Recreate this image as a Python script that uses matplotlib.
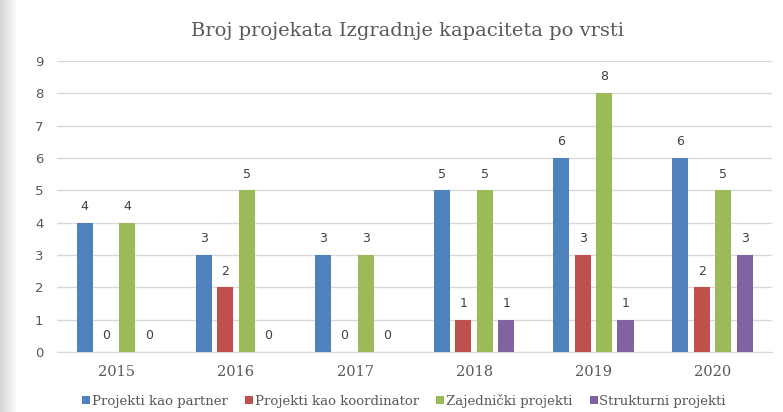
import matplotlib
matplotlib.use('Agg')
from matplotlib import pyplot as plt
import numpy as np

godine = ['2015', '2016', '2017', '2018', '2019', '2020']
partner = [4, 3, 3, 5, 6, 6]
koordinator = [0, 2, 0, 1, 3, 2]
zajednicki = [4, 5, 3, 5, 8, 5]
strukturni = [0, 0, 0, 1, 1, 3]

serije = [
    ('Projekti kao partner', partner, '#4F81BD'),
    ('Projekti kao koordinator', koordinator, '#C0504D'),
    ('Zajednički projekti', zajednicki, '#9BBB59'),
    ('Strukturni projekti', strukturni, '#8064A2'),
]
siva = '#595959'

fig = plt.figure(figsize=(7.83, 4.12), dpi=100)

# siva sjena na lijevom rubu
sjena = fig.add_axes([0, 0, 0.022, 1])
grad = np.linspace(0.83, 1.0, 50).reshape(1, -1)
sjena.imshow(grad, aspect='auto', cmap='gray', vmin=0, vmax=1, extent=[0, 1, 0, 1])
sjena.axis('off')

ax = fig.add_axes([0.073, 0.1456, 0.913, 0.7068])
x = np.arange(len(godine))
w = 0.135
pitch = 0.18
for i, (ime, vals, boja) in enumerate(serije):
    pos = x + (i - 1.5) * pitch
    bars = ax.bar(pos, vals, width=w, color=boja, label=ime, zorder=3)
    for xp, v in zip(pos, vals):
        ax.text(xp, v + 0.3, str(v), ha='center', va='bottom',
                fontsize=9, color='#404040', family='DejaVu Sans')

ax.set_xlim(-0.5, len(godine) - 0.5)
ax.set_ylim(0, 9)
ax.set_yticks(range(10))
ax.set_xticks(x)
ax.set_xticklabels(godine, family='DejaVu Serif', fontsize=10.5, color=siva)
ax.tick_params(axis='y', labelsize=9.5, labelcolor=siva, length=0, pad=10)
ax.tick_params(axis='x', length=0, pad=9)
ax.grid(axis='y', color='#d9d9d9', linewidth=1, zorder=0)
for s in ['top', 'right', 'left']:
    ax.spines[s].set_visible(False)
ax.spines['bottom'].set_color('#d9d9d9')

fig.text(0.521, 0.925, 'Broj projekata Izgradnje kapaciteta po vrsti',
         ha='center', va='center', fontsize=14, color=siva, family='DejaVu Serif')

leg = fig.legend(loc='center', bbox_to_anchor=(0.516, 0.027), ncol=4, frameon=False,
                 handlelength=0.6, handleheight=0.6, handletextpad=0.15, columnspacing=1.3,
                 borderpad=0.2, prop={'family': 'DejaVu Serif', 'size': 9.5})
for t in leg.get_texts():
    t.set_color(siva)

fig.savefig('out.png', dpi=100)
